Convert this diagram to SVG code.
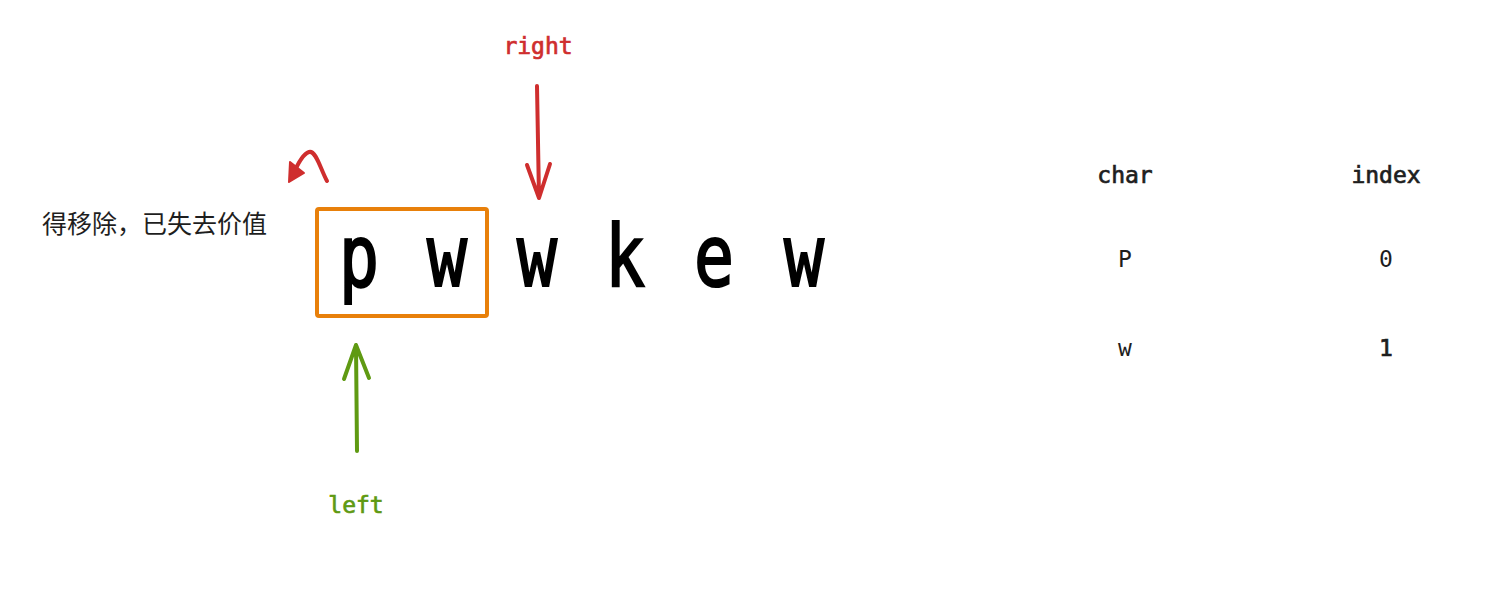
<svg xmlns="http://www.w3.org/2000/svg" width="1506" height="594" viewBox="0 0 1506 594">
<style>
.big{font-family:"DejaVu Sans Mono",monospace;font-size:86px;fill:#000;stroke:#000;stroke-width:2.2;text-anchor:middle}
.mono{font-family:"DejaVu Sans Mono","Liberation Mono",monospace;font-size:23px;text-anchor:middle}
.lbl{stroke-width:0.7}
.red{stroke:#cf2e2e;stroke-width:4;fill:none;stroke-linecap:round;stroke-linejoin:round}
.green{stroke:#5f9a12;stroke-width:4;fill:none;stroke-linecap:round;stroke-linejoin:round}
</style>
<rect width="1506" height="594" fill="#fff"/>
<g id="note"><text x="42" y="233" font-family="'Noto Sans CJK SC',sans-serif" font-size="25" fill="#1e1e1e">得移除，已失去价值</text></g>
<g id="window"><rect x="317" y="209" width="170" height="107" rx="2" fill="none" stroke="#e8800a" stroke-width="4"/></g>
<g id="chars">
<text class="big" x="359" y="286" textLength="40" lengthAdjust="spacingAndGlyphs">p</text>
<text class="big" x="447" y="286" textLength="40" lengthAdjust="spacingAndGlyphs">w</text>
<text class="big" x="537" y="286" textLength="40" lengthAdjust="spacingAndGlyphs">w</text>
<text class="big" x="625" y="286" textLength="40" lengthAdjust="spacingAndGlyphs">k</text>
<text class="big" x="714" y="286" textLength="40" lengthAdjust="spacingAndGlyphs">e</text>
<text class="big" x="804" y="286" textLength="40" lengthAdjust="spacingAndGlyphs">w</text>
</g>
<g id="right-label"><text class="mono lbl" x="538" y="54" fill="#cf2e2e" stroke="#cf2e2e">right</text></g>
<g id="left-label"><text class="mono lbl" x="356" y="513" fill="#5f9a12" stroke="#5f9a12">left</text></g>
<g id="table">
<text class="mono lbl" x="1125" y="183" fill="#1e1e1e" stroke="#1e1e1e">char</text>
<text class="mono lbl" x="1386" y="183" fill="#1e1e1e" stroke="#1e1e1e">index</text>
<text class="mono" x="1125" y="267" fill="#1e1e1e">P</text>
<text class="mono" x="1386" y="267" fill="#1e1e1e">0</text>
<text class="mono" x="1125" y="356" fill="#1e1e1e">w</text>
<text class="mono lbl" x="1386" y="356" fill="#1e1e1e" stroke="#1e1e1e">1</text>
</g>
<g id="connectors">
<path class="red" d="M537 86 L539 198 M527 165 L539 198 L550 164"/>
<path class="green" d="M357 451 L356 345 M344 379 L356 345 L369 378"/>
<path class="red" d="M327 181 C320 168 316 150 309 152 C303 154 298 163 293 175"/>
<polygon points="289,182 290,162 304,173" fill="#cf2e2e" stroke="#cf2e2e" stroke-width="2" stroke-linejoin="round"/>
</g>
</svg>
